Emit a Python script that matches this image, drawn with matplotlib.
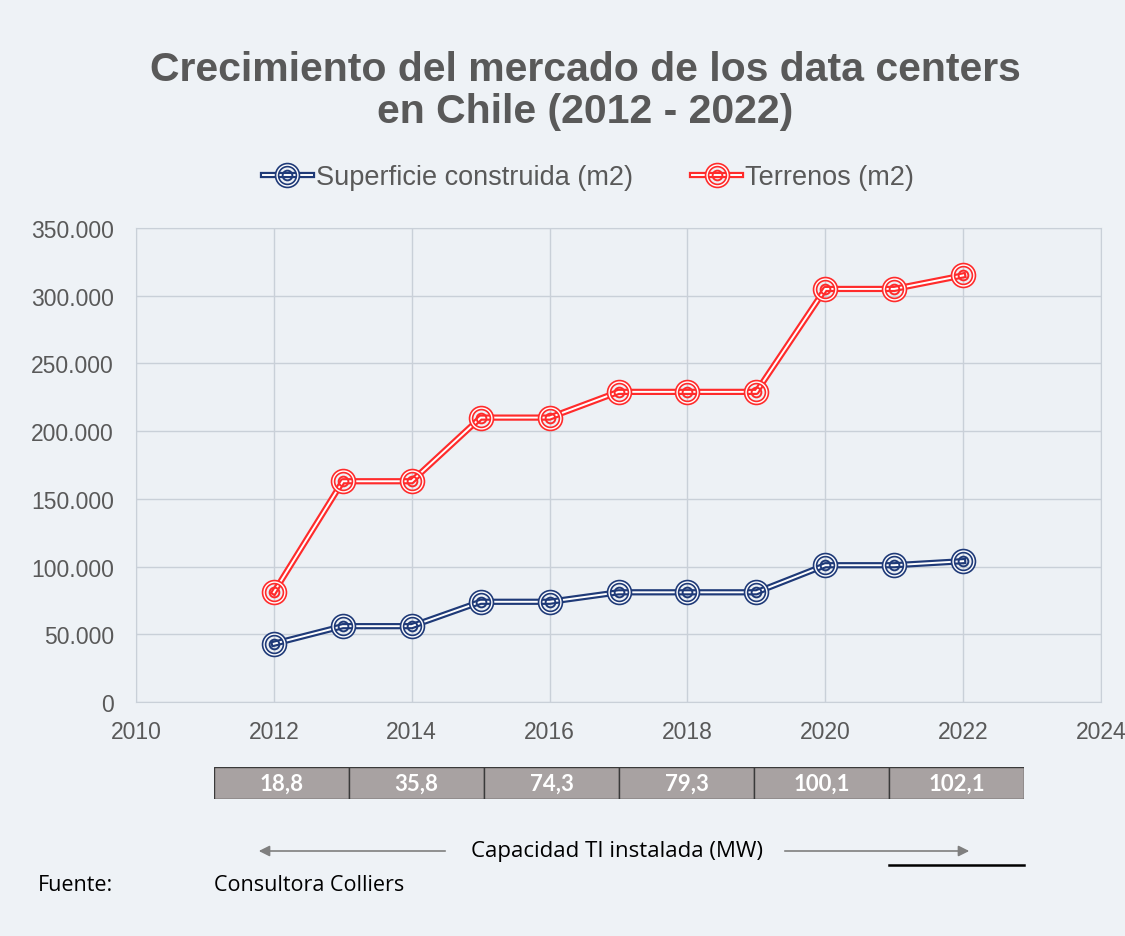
import numpy as np
import matplotlib
matplotlib.use("Agg")
import matplotlib.pyplot as plt
from matplotlib.lines import Line2D
from matplotlib.patches import FancyArrowPatch
from matplotlib.legend_handler import HandlerTuple

# ── data ──
years = [2012, 2013, 2014, 2015, 2016, 2017, 2018, 2019, 2020, 2021, 2022]
superficie = [43000, 56000, 56000, 74000, 74000, 81000, 81000, 81000, 101000, 101000, 104000]
terrenos = [81000, 163000, 163000, 210000, 210000, 229000, 229000, 229000, 305000, 305000, 315000]
capacidad = ["18,8", "35,8", "74,3", "79,3", "100,1", "102,1"]

BLUE = "#1f3a78"
RED = "#ff2b2b"
BG = "#eef2f6"
GRAY_TXT = "#595959"

plt.rcParams["font.family"] = ["Liberation Sans", "DejaVu Sans"]

fig = plt.figure(figsize=(11.25, 9.37), dpi=100)
fig.patch.set_facecolor(BG)

ax = fig.add_axes([136 / 1125, 1 - 703 / 937, 965 / 1125, 474 / 937])
ax.set_facecolor("#edf1f5")


def double_series(x, y, color):
    ax.plot(x, y, color=color, lw=4.5, solid_joinstyle="round", zorder=3)
    ax.plot(x, y, color="white", lw=1.4, solid_joinstyle="round", zorder=4)
    ax.plot(x, y, ls="none", marker="o", ms=15, mfc="none", mec=color, mew=3.4, zorder=5)
    ax.plot(x, y, ls="none", marker="o", ms=15, mfc="none", mec="white", mew=1.0, zorder=6)
    ax.plot(x, y, ls="none", marker="o", ms=7, mfc="none", mec=color, mew=1.4, zorder=6)


double_series(years, superficie, BLUE)
double_series(years, terrenos, RED)

ax.set_xlim(2010, 2024)
ax.set_ylim(0, 350000)
ax.set_xticks(range(2010, 2025, 2))
ax.set_yticks(range(0, 350001, 50000))
ax.set_yticklabels([f"{v:,}".replace(",", ".") for v in range(0, 350001, 50000)])
ax.tick_params(length=0, labelsize=16.5, colors=GRAY_TXT)
ax.tick_params(axis="y", pad=16)
ax.tick_params(axis="x", pad=13)
ax.grid(True, color="#c9d0d8", lw=1.0)
ax.set_axisbelow(True)
for s in ax.spines.values():
    s.set_color("#c9d0d8")

# ── title ──
fig.text(0.52, 1 - 91 / 937, "Crecimiento del mercado de los data centers\nen Chile (2012 - 2022)",
         ha="center", va="center", fontsize=29.5, fontweight="bold", color=GRAY_TXT,
         linespacing=1.12)


# ── legend ──
def legend_handle(color):
    return (Line2D([], [], color=color, lw=4.5),
            Line2D([], [], color="white", lw=1.4),
            Line2D([], [], ls="none", marker="o", ms=15, mfc="none", mec=color, mew=3.4),
            Line2D([], [], ls="none", marker="o", ms=15, mfc="none", mec="white", mew=1.0),
            Line2D([], [], ls="none", marker="o", ms=7, mfc="none", mec=color, mew=1.4))


fig.legend([legend_handle(BLUE), legend_handle(RED)],
           ["Superficie construida (m2)", "Terrenos (m2)"],
           handler_map={tuple: HandlerTuple(ndivide=1, pad=0)},
           loc="center", bbox_to_anchor=(0.523, 1 - 178 / 937), ncol=2, frameon=False,
           fontsize=19.5, labelcolor=GRAY_TXT, handlelength=1.8, handletextpad=0.15,
           columnspacing=2.2)

# ── capacity strip ──
tax = fig.add_axes([214 / 1125, 1 - 800 / 937, 810 / 1125, 32 / 937])
pos = np.arange(len(capacidad)) + 0.5
tax.bar(pos, [1] * len(capacidad), width=1.0, color="#a8a2a2", edgecolor="#3a3a3a", lw=1.0)
for p, lab in zip(pos, capacidad):
    tax.text(p, 0.5, lab, ha="center", va="center", color="white", fontsize=16,
             fontweight="bold", family=["Lato", "DejaVu Sans"])
tax.set_xlim(0, len(capacidad))
tax.set_ylim(0, 1)
tax.axis("off")

# ── arrows and notes ──
arrow_kw = dict(arrowstyle="-|>", color="#7f7f7f", lw=1.2, mutation_scale=16)
fig.patches.append(FancyArrowPatch((448 / 1125, 1 - 852 / 937), (256 / 1125, 1 - 852 / 937),
                                   transform=fig.transFigure, **arrow_kw))
fig.patches.append(FancyArrowPatch((782 / 1125, 1 - 852 / 937), (972 / 1125, 1 - 852 / 937),
                                   transform=fig.transFigure, **arrow_kw))
fig.text(617 / 1125, 1 - 852 / 937, "Capacidad TI instalada (MW)", ha="center", va="center",
         fontsize=16, color="black", family=["Open Sans", "DejaVu Sans"])
fig.add_artist(Line2D([889 / 1125, 1024 / 1125], [1 - 866 / 937, 1 - 866 / 937],
                      color="black", lw=1.8, transform=fig.transFigure))
fig.text(38 / 1125, 1 - 886 / 937, "Fuente:", ha="left", va="center", fontsize=15.5,
         color="black", family=["Open Sans", "DejaVu Sans"])
fig.text(214 / 1125, 1 - 886 / 937, "Consultora Colliers", ha="left", va="center",
         fontsize=15.5, color="black", family=["Open Sans", "DejaVu Sans"])

fig.savefig("out.png", dpi=100, facecolor=fig.get_facecolor())
